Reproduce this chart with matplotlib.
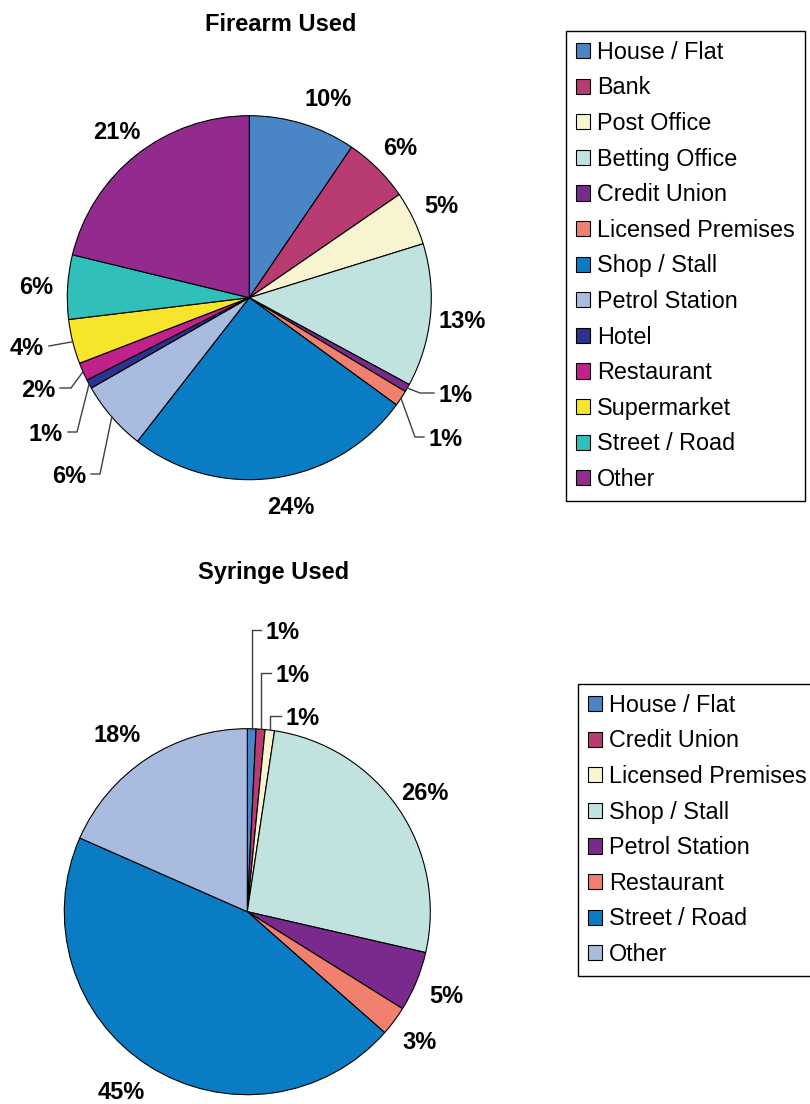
import numpy as np
import matplotlib.pyplot as plt

plt.rcParams['font.family'] = ['Liberation Sans', 'DejaVu Sans']

W, H = 810, 1104

firearm_names = ["House / Flat", "Bank", "Post Office", "Betting Office", "Credit Union",
                 "Licensed Premises", "Shop / Stall", "Petrol Station", "Hotel",
                 "Restaurant", "Supermarket", "Street / Road", "Other"]
firearm_share = [9.5, 5.9, 4.8, 12.7, 0.7, 1.4, 25.5, 6.2, 0.8, 1.6, 3.95, 5.7, 21.2]
firearm_pct = [10, 6, 5, 13, 1, 1, 24, 6, 1, 2, 4, 6, 21]

syringe_names = ["House / Flat", "Credit Union", "Licensed Premises", "Shop / Stall",
                 "Petrol Station", "Restaurant", "Street / Road", "Other"]
syringe_share = [0.76, 0.79, 0.83, 26.2, 5.3, 2.6, 45.1, 18.4]
syringe_pct = [1, 1, 1, 26, 5, 3, 45, 18]

palette = ["#4a86c6", "#b83b72", "#f9f4d0", "#c0e3e0", "#7a2a8c", "#f2806f",
           "#0a7cc3", "#a9bbde", "#2d3190", "#c0218b", "#f7e52b", "#31bfb9", "#932a8e"]

# layout (pixels, y measured from top)
FS = 17
# small-slice labels: index -> (label x, label y, elbow x or None = straight up from edge, side)
firearm_leaders = {4: (456, 393, 420, 'r'), 5: (446, 437, 415, 'r'),
                   7: (69, 474, 100, 'l'), 8: (46, 432, 77, 'l'),
                   9: (38, 388, 71, 'l'), 10: (27, 346, 49, 'l')}
syringe_leaders = {0: (283, 630, None, 'r'), 1: (293, 673, None, 'r'),
                   2: (303, 716, None, 'r')}
# labels that sit away from the slice middle
firearm_moved = {0: (328, 97), 6: (291, 505)}
syringe_moved = {6: (121, 1090), 7: (117, 733)}

fig = plt.figure(figsize=(W / 100, H / 100), dpi=100)
ax = fig.add_axes([0, 0, 1, 1])


def draw_pie(values, pct, names, cx, cy, r, leaders, moved, title, title_xy, leg_xy):
    cy = H - cy
    wedges, _ = ax.pie(values, colors=palette[:len(values)], center=(cx, cy), radius=r,
                       startangle=90, counterclock=False,
                       wedgeprops=dict(edgecolor='black', linewidth=0.8))
    for i, (w, v) in enumerate(zip(wedges, pct)):
        mid = np.deg2rad((w.theta1 + w.theta2) / 2)
        txt = f"{v}%"
        if i in leaders:
            lx, ly, ex, side = leaders[i]
            ly = H - ly
            x0, y0 = cx + r * np.cos(mid), cy + r * np.sin(mid)
            if ex is None:
                ex = x0
            endx = lx - 22 if side == 'r' else lx + 22
            ax.plot([x0, ex, endx], [y0, ly, ly], color='#404040', lw=1)
            tx, ty = lx, ly
        elif i in moved:
            tx, ty = moved[i][0], H - moved[i][1]
        else:
            tx, ty = cx + 1.175 * r * np.cos(mid), cy + 1.175 * r * np.sin(mid)
        ax.text(tx, ty, txt, ha='center', va='center_baseline', fontsize=FS,
                fontweight='bold')
    ax.text(title_xy[0], H - title_xy[1], title, ha='center', va='center_baseline',
            fontsize=FS, fontweight='bold')
    leg = ax.legend(wedges, names, loc='upper left', bbox_to_anchor=(leg_xy[0], H - leg_xy[1]),
                    bbox_transform=ax.transData, fontsize=16.8, frameon=True, fancybox=False,
                    edgecolor='black', framealpha=1, borderpad=0.42, borderaxespad=0,
                    handlelength=0.62, handleheight=0.62, handletextpad=0.3,
                    labelspacing=0.54)
    leg.get_frame().set_linewidth(1.0)
    return leg


leg1 = draw_pie(firearm_share, firearm_pct, firearm_names, 249.3, 297.7, 182,
                firearm_leaders, firearm_moved, "Firearm Used", (281, 22), (566, 31))
ax.add_artist(leg1)
draw_pie(syringe_share, syringe_pct, syringe_names, 247.3, 911.7, 183,
         syringe_leaders, syringe_moved, "Syringe Used", (274, 570), (578, 684))

ax.set_aspect('equal')
ax.set_xlim(0, W)
ax.set_ylim(0, H)
ax.axis('off')

fig.savefig("out.png", dpi=100, facecolor='white')
